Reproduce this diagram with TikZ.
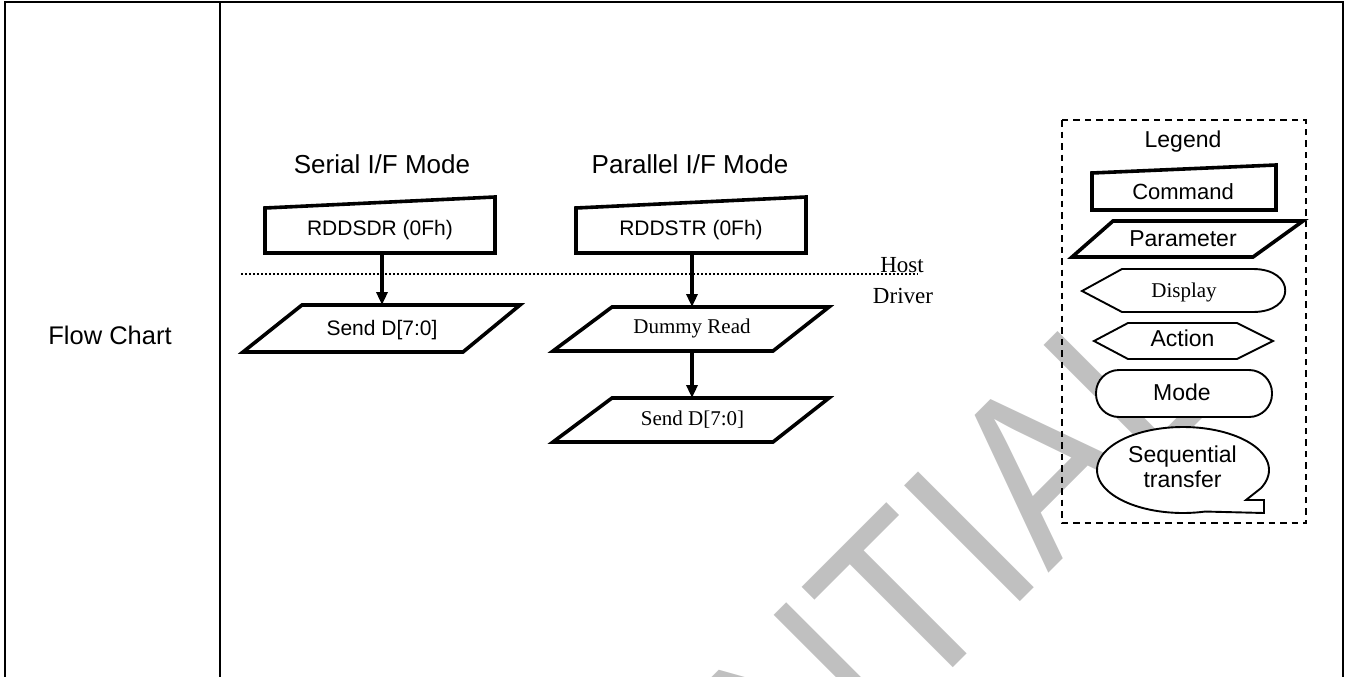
\documentclass[tikz,border=0pt]{standalone}
\usepackage{fontspec}
\setmainfont{Liberation Sans}
\newfontfamily\timesf{Liberation Serif}
\usetikzlibrary{arrows.meta}
\definecolor{wmgray}{RGB}{192,192,192}
\newcommand\setsz[2]{\fontsize{#1}{#2}\selectfont}
\tikzset{
  thickshape/.style={draw=black, line width=3.6pt, fill=white, line join=miter},
  thinshape/.style={draw=black, line width=1.9pt, fill=white},
  frame/.style={draw=none, inner sep=0pt, outer sep=0pt},
  flowarrow/.style={line width=3.2pt, -{Triangle[length=13pt,width=11pt]}},
  txt/.style={inner sep=0pt, outer sep=0pt, anchor=base},
  wm/.style={text=wmgray, inner sep=0pt, outer sep=0pt, rotate=45, xscale=0.89, font=\setsz{238}{238}},
  tableline/.style={line width=2.4pt},
  legendbox/.style={line width=1.8pt, dash pattern=on 6.5pt off 5pt},
  hostline/.style={line width=1.8pt, dash pattern=on 1.8pt off 2.2pt}
}
\begin{document}
\begin{tikzpicture}[x=1pt,y=-1pt]
\useasboundingbox (0,0) rectangle (1346,677);
% watermark
\begin{scope}
\clip (0,0) rectangle (1346,677);
\begin{scope}[shift={(1006.4,615.3)}]
\node[wm, anchor=base east] (wmA) at (0,0) {CONFIDENT};
\node[wm, anchor=base west] (wmB) at (0,0) {IAL};
\end{scope}
\end{scope}
% table
\draw[tableline] (5,677) -- (5,2) -- (1343,2) -- (1343,677);
\draw[tableline] (220,2) -- (220,677);
\node[txt, font=\setsz{25.5}{30}] (flowchart) at (110,344) {Flow Chart};
% host / driver line
\draw[hostline] (241,274) -- (918,274);
\node[txt, font=\timesf\setsz{23}{27}] (host) at (902,272) {Host};
\node[txt, font=\timesf\setsz{23}{27}] (driver) at (903,303) {Driver};
% serial column
\node[txt, font=\setsz{26}{30}] (sertitle) at (382,173) {Serial I/F Mode};
\draw[thickshape] (265,253) -- (495,253) -- (495,197) -- (265,208) -- cycle;
\node[frame, minimum width=230pt, minimum height=45pt] (cmdS) at (380,230.5) {};
\node[txt, font=\setsz{21}{25}] (cmdStxt) at (380,235) {RDDSDR (0Fh)};
\draw[thickshape] (302,305) -- (520,305) -- (463,352) -- (243,352) -- cycle;
\node[frame, minimum width=160pt, minimum height=47pt] (sendS) at (382,328.5) {};
\node[txt, font=\setsz{21}{25}] (sendStxt) at (382,335) {Send D[7:0]};
\draw[flowarrow] (cmdS.south -| sendS.north) -- (sendS.north);
% parallel column
\node[txt, font=\setsz{26}{30}] (partitle) at (690,173) {Parallel I/F Mode};
\draw[thickshape] (576,253) -- (806,253) -- (806,197) -- (576,208) -- cycle;
\node[frame, minimum width=230pt, minimum height=45pt] (cmdP) at (691,230.5) {};
\node[txt, font=\setsz{21}{25}] (cmdPtxt) at (691,235) {RDDSTR (0Fh)};
\draw[thickshape] (612,307) -- (829,307) -- (773,351) -- (553,351) -- cycle;
\node[frame, minimum width=160pt, minimum height=44pt] (dumP) at (692,329) {};
\node[txt, font=\timesf\setsz{21}{25}] (dumPtxt) at (692,333) {Dummy Read};
\draw[thickshape] (612,398) -- (829,398) -- (773,442) -- (553,442) -- cycle;
\node[frame, minimum width=160pt, minimum height=44pt] (sendP) at (692,420) {};
\node[txt, font=\timesf\setsz{21}{25}] (sendPtxt) at (692.5,425) {Send D[7:0]};
\draw[flowarrow] (cmdP.south -| dumP.north) -- (dumP.north);
\draw[flowarrow] (dumP.south) -- (sendP.north);
% legend
\draw[legendbox] (1062,120) rectangle (1306,523);
\node[txt, font=\setsz{23}{27}] (legend) at (1183,147) {Legend};
\draw[thickshape] (1092,210) -- (1276,210) -- (1276,165) -- (1092,173) -- cycle;
\node[txt, font=\setsz{22}{26}] (lcmd) at (1183,199) {Command};
\draw[thickshape] (1113,221) -- (1303,221) -- (1253,257) -- (1072,257) -- cycle;
\node[txt, font=\setsz{23}{27}] (lpar) at (1183,246) {Parameter};
\draw[thinshape] (1082,291) -- (1122,269) -- (1253,269) .. controls (1296,269) and (1296,312) .. (1253,312) -- (1122,312) -- cycle;
\node[txt, font=\timesf\setsz{21}{25}] (ldisp) at (1184,297) {Display};
\draw[thinshape] (1094,341) -- (1128,323) -- (1237,323) -- (1273,341) -- (1237,359) -- (1128,359) -- cycle;
\node[txt, font=\setsz{23}{27}] (lact) at (1182.5,346) {Action};
\draw[thinshape, rounded corners=23pt] (1096,370) rectangle (1272,417);
\node[txt, font=\setsz{23}{27}] (lmode) at (1182,400.7) {Mode};
\draw[thinshape] (1260.9,488.2) -- plot[domain=25:-285, samples=90] ({1183+86*cos(\x)},{470+43*sin(\x)}) -- (1264,513) -- (1264,500) -- (1246,500) -- cycle;
\node[inner sep=0pt, outer sep=0pt, anchor=north, align=center, font=\setsz{23}{25}] (lseq) at (1182.5,446.2) {Sequential\\transfer};
\end{tikzpicture}
\end{document}
